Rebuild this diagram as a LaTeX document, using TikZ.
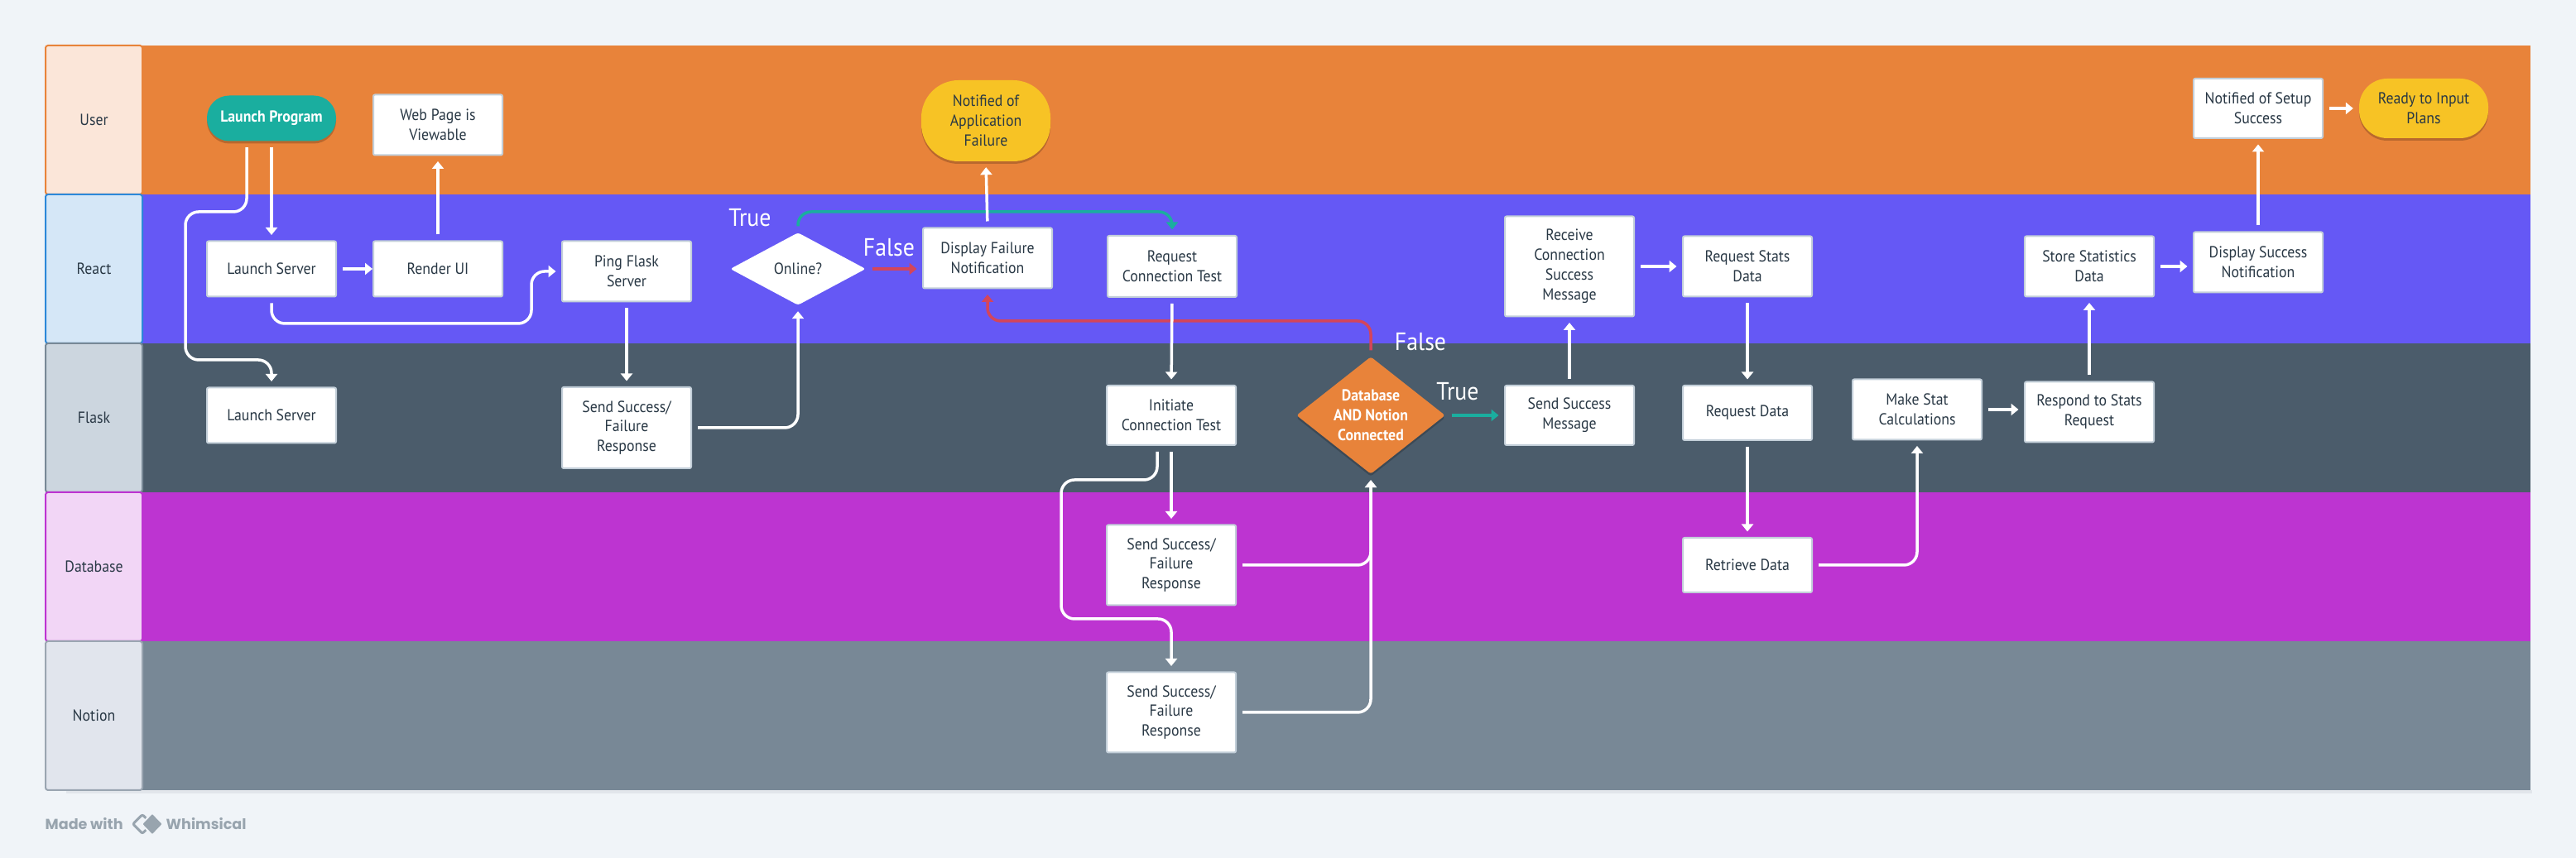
\documentclass[tikz,border=0pt]{standalone}
\usepackage{fontspec}
\setmainfont[FakeStretch=0.92]{PT Sans}
\newfontfamily\footfont{Poppins}
\usetikzlibrary{arrows.meta,shapes.geometric,shadows}

\definecolor{pagebg}{HTML}{F0F4F8}
\definecolor{laneshade}{HTML}{E2E6EB}
\definecolor{inktext}{HTML}{293845}
\definecolor{boxline}{HTML}{C3CFD9}
\definecolor{bandorange}{HTML}{E8833A}
\definecolor{bandindigo}{HTML}{6558F5}
\definecolor{bandslate}{HTML}{4B5C6B}
\definecolor{bandmagenta}{HTML}{BD34D1}
\definecolor{bandgrey}{HTML}{788896}
\definecolor{tintorange}{HTML}{FBE6D9}
\definecolor{tintblue}{HTML}{D5E7F7}
\definecolor{lineblue}{HTML}{2C88D9}
\definecolor{tintslate}{HTML}{CCD6DF}
\definecolor{tintmagenta}{HTML}{F2D6F6}
\definecolor{tintgrey}{HTML}{E1E5ED}
\definecolor{linegrey}{HTML}{9AA5B1}
\definecolor{okteal}{HTML}{1AAE9F}
\definecolor{badred}{HTML}{D3455B}
\definecolor{endyellow}{HTML}{F7C325}
\definecolor{footgrey}{HTML}{98A4AE}

\tikzset{
	smalltext/.style={font=\fontsize{5.5}{6.8}\selectfont},
	lanehead/.style={rectangle, rounded corners=0.03cm, line width=0.02cm, minimum width=1.17cm, minimum height=1.80cm, inner sep=0, text=inktext, smalltext},
	box/.style={rectangle, draw=boxline, fill=white, rounded corners=0.02cm, line width=0.02cm, minimum width=1.56cm, minimum height=#1, inner sep=0, align=center, text=inktext, smalltext},
	box/.default=0.73cm,
	softshadow/.style={drop shadow={shadow xshift=0cm, shadow yshift=-0.03cm, opacity=0.2, fill=black}},
	pill/.style={rectangle, fill=#1, rounded corners=0.27cm, minimum width=1.56cm, inner sep=0, align=center, softshadow, smalltext},
	check/.style={diamond, rounded corners=0.03cm, inner sep=0, align=center, smalltext},
	branch/.style={text=white, inner sep=0, font=\fontsize{8.6}{9}\selectfont},
	flow/.style={draw=white, line width=0.035cm, rounded corners=0.16cm, shorten <=0.07cm, shorten >=0.065cm, -{Triangle[length=0.09cm,width=0.14cm]}},
	footer/.style={text=footgrey, inner sep=0, font=\footfont\fontsize{5.0}{6}\selectfont\bfseries}
}

\begin{document}
\begin{tikzpicture}

\useasboundingbox (0, 0) rectangle (31.12, 10.37);
\fill [pagebg] (0, 0) rectangle (31.12, 10.37);
\fill [laneshade] (0.80, 0.78) rectangle (30.59, 0.82);

\fill [bandorange] (1.72, 8.02) rectangle (30.57, 9.82);
\fill [bandindigo] (1.72, 6.22) rectangle (30.57, 8.02);
\fill [bandslate] (1.72, 4.42) rectangle (30.57, 6.22);
\fill [bandmagenta] (1.72, 2.62) rectangle (30.57, 4.42);
\fill [bandgrey] (1.72, 0.82) rectangle (30.57, 2.62);

\node [lanehead, draw=bandorange, fill=tintorange] (userhead) at (1.135, 8.92) {User};
\node [lanehead, draw=lineblue, fill=tintblue] (reacthead) at (1.135, 7.12) {React};
\node [lanehead, draw=bandgrey, fill=tintslate] (flaskhead) at (1.135, 5.32) {Flask};
\node [lanehead, draw=bandmagenta, fill=tintmagenta] (databasehead) at (1.135, 3.52) {Database};
\node [lanehead, draw=linegrey, fill=tintgrey] (notionhead) at (1.135, 1.72) {Notion};

\node [pill=okteal, minimum height=0.55cm, text=white, font=\fontsize{5.5}{6.8}\selectfont\bfseries] (program) at (3.28, 8.94) {Launch Program};
\node [box] (webpage) at (5.29, 8.86) {Web Page is\\Viewable};
\node [pill=endyellow, minimum height=0.98cm, rounded corners=0.45cm, text=inktext] (appfailure) at (11.91, 8.91) {Notified of\\Application\\Failure};
\node [box=0.72cm] (setup) at (27.28, 9.06) {Notified of Setup\\Success};
\node [pill=endyellow, minimum height=0.72cm, rounded corners=0.34cm, text=inktext] (ready) at (29.28, 9.06) {Ready to Input\\Plans};

\node [box=0.67cm] (launchreact) at (3.28, 7.12) {Launch Server};
\node [box=0.67cm] (render) at (5.29, 7.12) {Render UI};
\node [box] (ping) at (7.57, 7.09) {Ping Flask\\Server};
\node [check, fill=white, text=inktext, minimum width=1.64cm, minimum height=0.88cm, aspect=1.86] (online) at (9.64, 7.12) {Online?};
\node [box] (failure) at (11.93, 7.25) {Display Failure\\Notification};
\node [box=0.74cm] (reqtest) at (14.16, 7.15) {Request\\Connection Test};
\node [box=1.21cm] (receive) at (18.96, 7.15) {Receive\\Connection\\Success\\Message};
\node [box] (reqstats) at (21.11, 7.15) {Request Stats\\Data};
\node [box] (store) at (25.24, 7.15) {Store Statistics\\Data};
\node [box] (display) at (27.28, 7.20) {Display Success\\Notification};

\node [box=0.67cm] (launchflask) at (3.28, 5.35) {Launch Server};
\node [box=0.98cm] (sendping) at (7.57, 5.20) {Send Success/\\Failure\\Response};
\node [box=0.72cm] (initiate) at (14.15, 5.35) {Initiate\\Connection Test};
\node [check, fill=bandorange, text=white, minimum width=1.80cm, minimum height=1.42cm, aspect=1.27, softshadow, font=\fontsize{5.5}{6.8}\selectfont\bfseries] (dbcheck) at (16.56, 5.35) {Database\\AND Notion\\Connected};
\node [box=0.72cm] (sendmsg) at (18.96, 5.35) {Send Success\\Message};
\node [box=0.66cm] (reqdata) at (21.11, 5.38) {Request Data};
\node [box] (makestat) at (23.16, 5.42) {Make Stat\\Calculations};
\node [box] (respond) at (25.24, 5.39) {Respond to Stats\\Request};

\node [box=0.97cm] (sendbase) at (14.15, 3.54) {Send Success/\\Failure\\Response};
\node [box=0.66cm] (retrieve) at (21.11, 3.54) {Retrieve Data};

\node [box=0.97cm] (sendnotion) at (14.15, 1.76) {Send Success/\\Failure\\Response};

\node [branch] (trueonline) at (9.06, 7.74) {True};
\node [branch] (falseonline) at (10.74, 7.38) {False};
\node [branch] (falsedb) at (17.16, 6.24) {False};
\node [branch] (truedb) at (17.61, 5.64) {True};

\draw [flow, draw=okteal, okteal] (online.north) -- (9.64, 7.81) -| (reqtest.north);
\draw [flow, draw=badred, badred] (online.east) -- (online.east -| failure.west);
\draw [flow, draw=badred, badred] (dbcheck.north) -- (16.56, 6.49) -| (failure.south);
\draw [flow, draw=okteal, okteal] (dbcheck.east) -- (sendmsg.west);

\draw [flow] (program.south) -- (launchreact.north);
\draw [flow] ([xshift=-0.30cm]program.south) -- (2.98, 7.81) -- (2.24, 7.81) -- (2.24, 6.02) -- (3.28, 6.02) -- (launchflask.north);
\draw [flow, shorten >=0cm] (launchreact.east) -- (render.west);
\draw [flow] (render.north) -- (webpage.south);
\draw [flow] (launchreact.south) -- (3.28, 6.46) -- (6.42, 6.46) -- (6.42, 7.09) -- (ping.west);
\draw [flow] (ping.south) -- (sendping.north);
\draw [flow] (sendping.east) -| (online.south);
\draw [flow] (failure.north) -- (appfailure.south);

\draw [flow] (reqtest.south) -- (initiate.north);
\draw [flow] (initiate.south) -- (sendbase.north);
\draw [flow] ([xshift=-0.17cm]initiate.south) -- (13.98, 4.57) -- (12.82, 4.57) -- (12.82, 2.89) -- (14.15, 2.89) -- (sendnotion.north);
\draw [flow] (sendbase.east) -| (dbcheck.south);
\draw [flow] (sendnotion.east) -| (dbcheck.south);

\draw [flow] (sendmsg.north) -- (receive.south);
\draw [flow] (receive.east) -- (reqstats.west);
\draw [flow] (reqstats.south) -- (reqdata.north);
\draw [flow] (reqdata.south) -- (retrieve.north);
\draw [flow] (retrieve.east) -| (makestat.south);
\draw [flow] (makestat.east) -- (makestat.east -| respond.west);
\draw [flow] (respond.north) -- (store.south);
\draw [flow] (store.east) -- (store.east -| display.west);
\draw [flow] (display.north) -- (setup.south);
\draw [flow] (setup.east) -- (ready.west);

\node [footer, anchor=west] (madewith) at (0.54, 0.41) {Made with};
\node [diamond, draw=footgrey, line width=0.03cm, rounded corners=0.02cm, minimum width=0.24cm, minimum height=0.24cm, inner sep=0] (logoleft) at (1.72, 0.41) {};
\node [diamond, draw=pagebg, fill=footgrey, line width=0.02cm, rounded corners=0.02cm, minimum width=0.27cm, minimum height=0.28cm, inner sep=0] (logoright) at (1.84, 0.41) {};
\node [footer, anchor=west] (whimsical) at (2.00, 0.41) {Whimsical};

\end{tikzpicture}
\end{document}
